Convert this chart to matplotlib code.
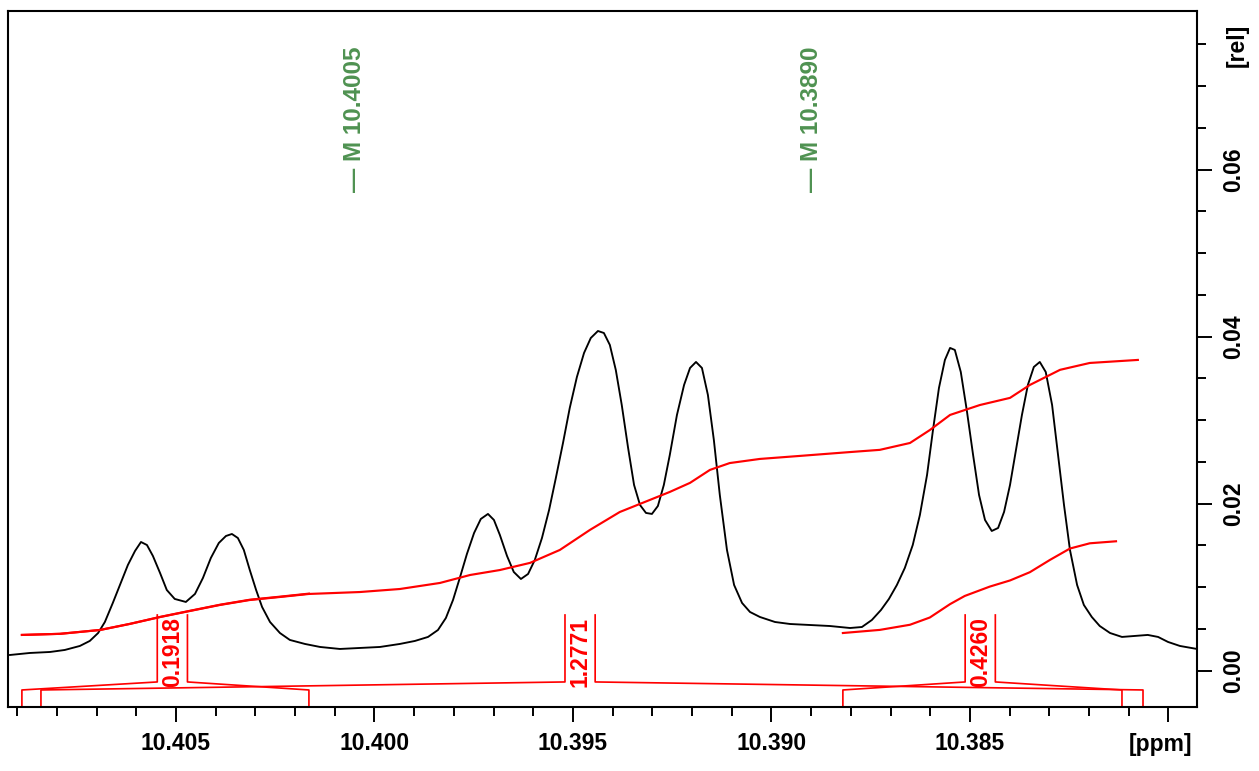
import numpy as np
import matplotlib
matplotlib.use("Agg")
import matplotlib.pyplot as plt
from matplotlib.ticker import MultipleLocator, FixedLocator

plt.rcParams['font.family'] = ['Liberation Sans', 'DejaVu Sans']

# ---- spectrum (chemical shift in ppm, relative intensity) ----
shift_ppm = [
    10.40918, 10.40868, 10.40817, 10.40780, 10.40742, 10.40717, 10.40696, 10.40679,
    10.40659, 10.40641, 10.40621, 10.40603, 10.40588, 10.40573, 10.40558, 10.40540,
    10.40523, 10.40503, 10.40475, 10.40452, 10.40432, 10.40412, 10.40392, 10.40374,
    10.40359, 10.40344, 10.40329, 10.40314, 10.40298, 10.40283, 10.40263, 10.40238,
    10.40213, 10.40175, 10.40137, 10.40087, 10.40037, 10.39986, 10.39936, 10.39898,
    10.39865, 10.39840, 10.39820, 10.39802, 10.39785, 10.39767, 10.39749, 10.39732,
    10.39714, 10.39699, 10.39684, 10.39666, 10.39649, 10.39631, 10.39613, 10.39596,
    10.39578, 10.39560, 10.39543, 10.39525, 10.39508, 10.39490, 10.39472, 10.39455,
    10.39437, 10.39422, 10.39407, 10.39392, 10.39377, 10.39361, 10.39346, 10.39331,
    10.39316, 10.39301, 10.39286, 10.39271, 10.39256, 10.39238, 10.39220, 10.39205,
    10.39190, 10.39175, 10.39160, 10.39145, 10.39130, 10.39112, 10.39094, 10.39074,
    10.39054, 10.39029, 10.38991, 10.38953, 10.38903, 10.38853, 10.38802, 10.38772,
    10.38747, 10.38724, 10.38704, 10.38684, 10.38664, 10.38644, 10.38626, 10.38608,
    10.38593, 10.38578, 10.38563, 10.38550, 10.38538, 10.38523, 10.38508, 10.38492,
    10.38477, 10.38462, 10.38445, 10.38429, 10.38414, 10.38399, 10.38384, 10.38369,
    10.38354, 10.38339, 10.38324, 10.38309, 10.38293, 10.38278, 10.38263, 10.38248,
    10.38230, 10.38213, 10.38193, 10.38173, 10.38147, 10.38117, 10.38084, 10.38052,
    10.38026, 10.38001, 10.37971, 10.37928,
]
intensity = [
    0.00188, 0.00212, 0.00224, 0.00248, 0.00296, 0.00356, 0.00451, 0.00583,
    0.00811, 0.01026, 0.01266, 0.01434, 0.01541, 0.01505, 0.01374, 0.01170,
    0.00966, 0.00859, 0.00823, 0.00919, 0.01110, 0.01350, 0.01529, 0.01613,
    0.01637, 0.01589, 0.01446, 0.01206, 0.00966, 0.00763, 0.00583, 0.00451,
    0.00368, 0.00320, 0.00284, 0.00260, 0.00272, 0.00284, 0.00320, 0.00356,
    0.00404, 0.00487, 0.00631, 0.00847, 0.01110, 0.01398, 0.01649, 0.01817,
    0.01877, 0.01805, 0.01625, 0.01374, 0.01182, 0.01098, 0.01158, 0.01326,
    0.01589, 0.01925, 0.02308, 0.02727, 0.03146, 0.03517, 0.03805, 0.03984,
    0.04068, 0.04044, 0.03901, 0.03601, 0.03182, 0.02667, 0.02224, 0.01984,
    0.01889, 0.01877, 0.01972, 0.02224, 0.02583, 0.03062, 0.03422, 0.03625,
    0.03697, 0.03625, 0.03302, 0.02763, 0.02104, 0.01446, 0.01026, 0.00811,
    0.00703, 0.00643, 0.00583, 0.00559, 0.00547, 0.00535, 0.00511, 0.00523,
    0.00607, 0.00727, 0.00859, 0.01026, 0.01230, 0.01505, 0.01865, 0.02344,
    0.02883, 0.03386, 0.03721, 0.03865, 0.03841, 0.03577, 0.03122, 0.02583,
    0.02104, 0.01805, 0.01673, 0.01709, 0.01901, 0.02224, 0.02643, 0.03062,
    0.03422, 0.03637, 0.03697, 0.03577, 0.03182, 0.02583, 0.01984, 0.01446,
    0.01026, 0.00787, 0.00643, 0.00535, 0.00451, 0.00404, 0.00416, 0.00428,
    0.00404, 0.00344, 0.00296, 0.00260,
]

# ---- integrals ----
int_values = [0.1918, 1.2771, 0.4260]
int_lo_ppm = [10.40888, 10.40840, 10.38820]      # region start (left end on the axis)
int_hi_ppm = [10.40165, 10.38064, 10.38117]      # region end (right end on the axis)
int_label_ppm = [10.40509, 10.39482, 10.38474]
int_start_level = [0.00428, 0.00428, 0.00451]    # vertical offset of each integral trace
int_trace_scale = 0.025788                        # intensity units per integral unit

# running fraction of the integral along each trace
trace_ppm_main = [10.40888, 10.40792, 10.40691, 10.40616, 10.40540, 10.40465, 10.40389,
                  10.40314, 10.40238, 10.40165, 10.40037, 10.39936, 10.39835, 10.39759,
                  10.39684, 10.39608, 10.39533, 10.39457, 10.39382, 10.39306, 10.39256,
                  10.39205, 10.39155, 10.39105, 10.39029, 10.38928, 10.38802, 10.38727,
                  10.38651, 10.38601, 10.38550, 10.38475, 10.38399, 10.38349, 10.38273,
                  10.38198, 10.38077]
trace_frac_main = [0.000, 0.004, 0.018, 0.040, 0.065, 0.087, 0.109, 0.127, 0.138, 0.149,
                   0.156, 0.167, 0.189, 0.218, 0.236, 0.262, 0.309, 0.382, 0.447, 0.491,
                   0.520, 0.553, 0.600, 0.625, 0.640, 0.651, 0.665, 0.673, 0.698, 0.745,
                   0.800, 0.836, 0.862, 0.909, 0.964, 0.989, 1.000]
trace_ppm_right = [10.38820, 10.38727, 10.38651, 10.38601, 10.38550, 10.38513, 10.38450,
                   10.38399, 10.38349, 10.38298, 10.38248, 10.38198, 10.38132]
trace_frac_right = [0.000, 0.034, 0.090, 0.169, 0.315, 0.404, 0.506, 0.573, 0.663,
                    0.798, 0.921, 0.978, 1.000]

# ---- peak markers ----
marker_ppm = [10.4005, 10.3890]

# ---- axes ----
x_major = [10.405, 10.400, 10.395, 10.390, 10.385, 10.380]
x_major_labels = ["10.405", "10.400", "10.395", "10.390", "10.385", ""]
y_major = [0.00, 0.02, 0.04, 0.06]
y_major_labels = ["0.00", "0.02", "0.04", "0.06"]

XLIM = (10.40923, 10.37928)
YLIM = (-0.00435, 0.0790)

RED = '#ff0000'
GREEN = '#4f9251'
FS = 16.5
LW = 1.35

fig = plt.figure(figsize=(12.59, 7.71), dpi=100)
ax = fig.add_axes([8 / 1259, 64 / 771, 1189 / 1259, 696 / 771])
ax.set_xlim(*XLIM)
ax.set_ylim(*YLIM)

# spectrum
ax.plot(shift_ppm, intensity, color='black', lw=LW, solid_joinstyle='round')

# integral traces
main = np.array(trace_frac_main)
right = np.array(trace_frac_right)
tp_main = np.array(trace_ppm_main)
in_first = tp_main >= int_hi_ppm[0]
frac_first = main[in_first] / main[in_first][-1]
traces = [
    (tp_main[in_first], frac_first),
    (tp_main, main),
    (np.array(trace_ppm_right), right),
]
for (px, fr), val, base in zip(traces, int_values, int_start_level):
    ax.plot(px, base + int_trace_scale * val * fr, color=RED, lw=LW * 1.15,
            solid_joinstyle='round')

# integral brackets with values
foot_level = -0.00231
corner_level = -0.00135
flag_top = 0.00667
half_w = 0.00038
for lo, hi, lab, val in zip(int_lo_ppm, int_hi_ppm, int_label_ppm, int_values):
    ax.plot([lo, lo, lab + half_w, lab + half_w],
            [YLIM[0], foot_level, corner_level, flag_top], color=RED, lw=LW * 0.9)
    ax.plot([hi, hi, lab - half_w, lab - half_w],
            [YLIM[0], foot_level, corner_level, flag_top], color=RED, lw=LW * 0.9)
    ax.text(lab, 0.00218, f"{val:.4f}", rotation=90, ha='center', va='center',
            color=RED, fontsize=FS, fontweight='bold')

# peak markers
for p in marker_ppm:
    ax.text(p, 0.05733, f"\u2014 M {p:.4f}", rotation=90, ha='center', va='bottom',
            color=GREEN, fontsize=17.5, fontweight='bold')

# ticks and frame
ax.xaxis.set_major_locator(FixedLocator(x_major))
ax.set_xticklabels(x_major_labels)
ax.xaxis.set_minor_locator(MultipleLocator(0.001))
ax.yaxis.set_major_locator(FixedLocator(y_major))
ax.set_yticklabels(y_major_labels)
ax.yaxis.set_minor_locator(MultipleLocator(0.005))
ax.yaxis.tick_right()
ax.tick_params(axis='both', which='both', direction='out', width=1.4, color='black')
ax.tick_params(axis='both', which='major', length=10.8, labelsize=FS, pad=7.5)
ax.tick_params(axis='both', which='minor', length=6.5)
ax.tick_params(axis='y', labelrotation=90)
ax.tick_params(top=False, left=False, which='both')
for lab in ax.get_xticklabels() + ax.get_yticklabels():
    lab.set_fontweight('bold')
for lab in ax.get_yticklabels():
    lab.set_va('center')
for s in ax.spines.values():
    s.set_linewidth(1.5)

fig.text(1160 / 1259, 1 - 745 / 771, "[ppm]", ha='center', va='center',
         fontsize=FS, fontweight='bold')
fig.text(1237 / 1259, 1 - 45 / 771, "[rel]", ha='center', va='center', rotation=90,
         fontsize=FS, fontweight='bold')

fig.savefig("out.png", dpi=100)
